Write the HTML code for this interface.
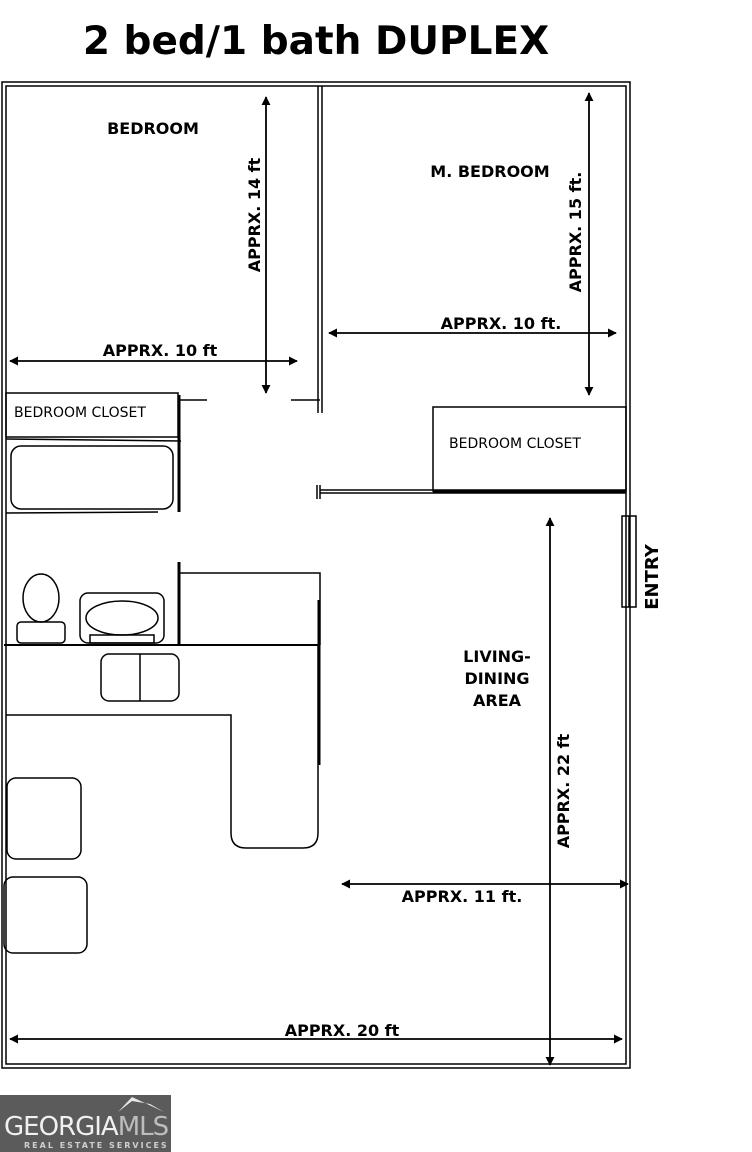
<!DOCTYPE html>
<html><head><meta charset="utf-8"><style>
html,body{margin:0;padding:0;background:#fff;}
svg{display:block;}
text{font-family:"DejaVu Sans","Liberation Sans",sans-serif;fill:#000;}
.b{font-weight:bold;font-size:16px;}
.n{font-size:14px;}
</style></head><body>
<svg width="752" height="1152" viewBox="0 0 752 1152" xmlns="http://www.w3.org/2000/svg">
<defs>
<marker id="a" viewBox="0 0 10 10" refX="9" refY="5" markerWidth="9" markerHeight="9" orient="auto-start-reverse" markerUnits="userSpaceOnUse"><path d="M0,0 L10,5 L0,10 z" fill="#000"/></marker>
</defs>
<text x="316" y="54" text-anchor="middle" style="font-weight:bold;font-size:39px">2 bed/1 bath DUPLEX</text>
<g fill="none" stroke="#000" stroke-width="1.5">
<rect x="2" y="82" width="628" height="986"/>
<rect x="6" y="86" width="620" height="978"/>
<!-- bedroom divider -->
<line x1="318" y1="86" x2="318" y2="413"/><line x1="322" y1="86" x2="322" y2="413"/>
<!-- left closet -->
<rect x="6" y="393" width="172" height="44"/>
<line x1="179" y1="395" x2="179" y2="512" stroke-width="3"/>
<line x1="180" y1="400" x2="207" y2="400"/><line x1="291" y1="400" x2="320" y2="400"/>
<line x1="6" y1="439" x2="181" y2="441"/>
<rect x="11" y="446" width="162" height="63" rx="10"/>
<line x1="6" y1="513" x2="158" y2="512"/>
<!-- hall hash -->
<line x1="317" y1="485" x2="317" y2="499"/><line x1="320" y1="485" x2="320" y2="499"/>
<line x1="320" y1="490" x2="626" y2="490"/><line x1="320" y1="493" x2="626" y2="493"/>
<line x1="433" y1="492" x2="626" y2="492" stroke-width="3"/>
<!-- right closet -->
<rect x="433" y="407" width="193" height="84"/>
<!-- bath -->
<line x1="179" y1="562" x2="179" y2="645" stroke-width="3"/>
<polyline points="180,573 320,573 320,645"/>
<line x1="319" y1="600" x2="319" y2="765" stroke-width="3"/>
<line x1="4" y1="645" x2="318" y2="645" stroke-width="2"/>
<ellipse cx="41" cy="598" rx="18" ry="24"/>
<rect x="17" y="622" width="48" height="21" rx="4"/>
<rect x="80" y="593" width="84" height="50" rx="8"/>
<ellipse cx="122" cy="618" rx="36" ry="17"/>
<rect x="90" y="635" width="64" height="8"/>
<!-- stove -->
<rect x="101" y="654" width="78" height="47" rx="8"/>
<line x1="140" y1="654" x2="140" y2="701"/>
<!-- counter -->
<path d="M6,715 H231 V833 Q231,848 246,848 H303 Q318,848 318,833 V645"/>
<rect x="7" y="778" width="74" height="81" rx="9"/>
<rect x="4" y="877" width="83" height="76" rx="9"/>
<!-- entry -->
<rect x="622" y="516" width="14" height="91"/>
<line x1="629" y1="516" x2="629" y2="607"/>
</g>
<!-- dimension lines -->
<g stroke="#000" stroke-width="1.8" fill="none" marker-start="url(#a)" marker-end="url(#a)">
<line x1="266" y1="97" x2="266" y2="393"/>
<line x1="10" y1="361" x2="297" y2="361"/>
<line x1="589" y1="93" x2="589" y2="395"/>
<line x1="329" y1="333" x2="616" y2="333"/>
<line x1="550" y1="518" x2="550" y2="1065"/>
<line x1="342" y1="884" x2="628" y2="884"/>
<line x1="10" y1="1039" x2="622" y2="1039"/>
</g>
<text class="b" x="153" y="134" text-anchor="middle">BEDROOM</text>
<text class="b" x="490" y="177" text-anchor="middle">M. BEDROOM</text>
<text class="b" x="497" y="662" text-anchor="middle">LIVING-</text>
<text class="b" x="497" y="684" text-anchor="middle">DINING</text>
<text class="b" x="497" y="706" text-anchor="middle">AREA</text>
<text class="n" x="14" y="417">BEDROOM CLOSET</text>
<text class="n" x="515" y="448" text-anchor="middle">BEDROOM CLOSET</text>
<text class="b" x="160" y="356" text-anchor="middle">APPRX. 10 ft</text>
<text class="b" x="501" y="329" text-anchor="middle">APPRX. 10 ft.</text>
<text class="b" x="462" y="902" text-anchor="middle">APPRX. 11 ft.</text>
<text class="b" x="342" y="1036" text-anchor="middle">APPRX. 20 ft</text>
<text class="b" transform="translate(260,215) rotate(-90)" text-anchor="middle">APPRX. 14 ft</text>
<text class="b" transform="translate(581,232) rotate(-90)" text-anchor="middle">APPRX. 15 ft.</text>
<text class="b" transform="translate(569,791) rotate(-90)" text-anchor="middle">APPRX. 22 ft</text>
<text class="b" transform="translate(658,577) rotate(-90)" text-anchor="middle" style="font-size:18px">ENTRY</text>
<!-- logo -->
<rect x="0" y="1095" width="171" height="57" fill="#5b5b5b"/>
<path d="M118,1112 L132,1097 L164,1112 L150,1104 L132,1101 z" fill="#e8e8e8"/>
<text x="4" y="1135" style="font-size:26px;fill:#f0f0f0;letter-spacing:-1px">GEORGIA<tspan style="fill:#bdbdbd">MLS</tspan></text>
<text x="24" y="1148" style="font-size:8px;fill:#cfcfcf;letter-spacing:2px;font-weight:bold">REAL ESTATE SERVICES</text>
</svg>
</body></html>
